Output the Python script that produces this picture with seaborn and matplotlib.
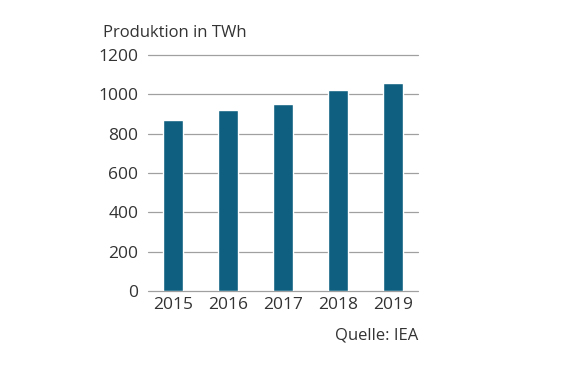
import matplotlib
matplotlib.use("Agg")
import matplotlib.pyplot as plt
import seaborn as sns
import pandas as pd

years = ["2015", "2016", "2017", "2018", "2019"]
production = [870, 918, 950, 1020, 1055]
yticks = [0, 200, 400, 600, 800, 1000, 1200]

df = pd.DataFrame({"year": years, "twh": production})

sns.set_theme(style="white")
plt.rcParams["font.family"] = ["Open Sans", "DejaVu Sans"]
text_color = "#333333"

fig = plt.figure(figsize=(5.62, 3.75), dpi=100)
ax = fig.add_axes([0.2633, 0.224, 0.4805, 0.6295])

sns.barplot(data=df, x="year", y="twh", color="#0e5f80", saturation=1,
            width=0.38, ax=ax, zorder=3)

ax.set_ylim(0, 1200)
ax.set_xlim(-0.455, 4.455)
ax.set_yticks(yticks)
ax.yaxis.grid(True, color="#a0a0a0", linewidth=0.9, zorder=0)
ax.set_axisbelow(True)
for gl in ax.get_ygridlines():
    gl.set_clip_on(False)
for s in ax.spines.values():
    s.set_visible(False)
ax.tick_params(axis="both", length=0, labelsize=12.5, colors=text_color)
ax.tick_params(axis="y", pad=7)
ax.tick_params(axis="x", pad=4)
ax.set_xlabel("")
ax.set_ylabel("")

fig.text(103 / 562, 1 - 33 / 375, "Produktion in TWh", fontsize=12,
         color=text_color, va="center", ha="left")
fig.text(418 / 562, 1 - 335 / 375, "Quelle: IEA", fontsize=12,
         color=text_color, va="center", ha="right")

fig.savefig("out.png", dpi=100)
